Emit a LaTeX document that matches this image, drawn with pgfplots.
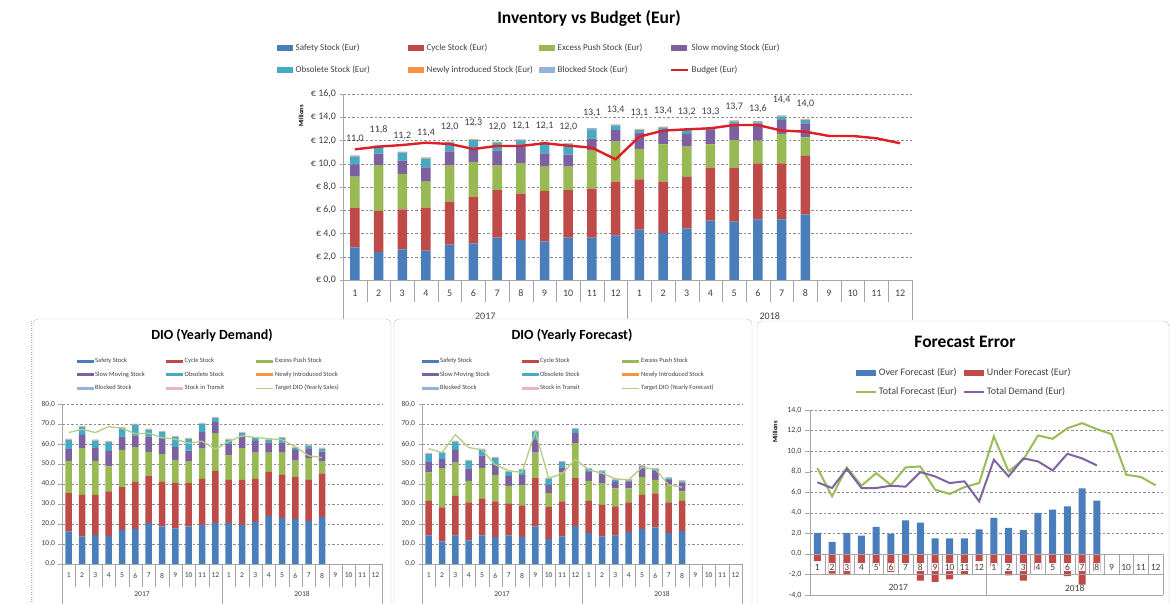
\documentclass[border=0pt]{standalone}
\usepackage{pgfplots}
\pgfplotsset{compat=1.18}
\usepackage{pgfplotstable}
\usepackage{fontspec}
\setmainfont{Carlito}
\definecolor{cSafe}{HTML}{4A7EBB}
\definecolor{cCycle}{HTML}{BE4B48}
\definecolor{cExcess}{HTML}{98B954}
\definecolor{cSlow}{HTML}{7D60A0}
\definecolor{cObs}{HTML}{46AAC5}
\definecolor{cNew}{HTML}{F69240}
\definecolor{cBlock}{HTML}{95B3D7}
\definecolor{cTrans}{HTML}{E6B9B8}
\definecolor{cBudget}{HTML}{DD1F26}
\definecolor{cTarget}{HTML}{B0CF86}
\definecolor{cFcst}{HTML}{9BBB59}
\definecolor{cDem}{HTML}{8064A2}
\definecolor{cGrid}{HTML}{8C8C8C}
\definecolor{cAxis}{HTML}{A6A6A6}
\definecolor{cText}{HTML}{404040}

\pgfplotstableread{
x s c e sl o n b
1 2.81 3.41 2.67 1.06 0.66 0.05 0.05
2 2.41 3.53 3.89 1.04 0.60 0.05 0.05
3 2.64 3.44 3.04 1.15 0.68 0.05 0.05
4 2.52 3.70 2.24 1.23 0.75 0.05 0.05
5 3.04 3.70 3.09 1.24 0.74 0.05 0.05
6 3.15 4.02 2.98 1.12 0.77 0.05 0.05
7 3.64 4.10 2.09 1.30 0.68 0.05 0.05
8 3.44 3.99 2.63 1.50 0.43 0.05 0.05
9 3.33 4.33 2.09 1.15 0.91 0.05 0.05
10 3.64 4.10 2.01 1.03 0.89 0.05 0.05
11 3.64 4.22 3.27 1.03 0.80 0.05 0.05
12 3.84 4.62 3.44 1.00 0.38 0.05 0.05
13 4.33 4.33 2.61 1.40 0.23 0.05 0.05
14 4.04 4.42 3.21 1.23 0.20 0.05 0.05
15 4.44 4.42 2.61 1.09 0.34 0.05 0.05
16 5.10 4.56 2.01 1.23 0.15 0.05 0.05
17 5.02 4.64 2.38 1.44 0.14 0.05 0.05
18 5.22 4.82 1.95 1.49 0.08 0.05 0.05
19 5.22 4.82 2.52 1.20 0.29 0.05 0.05
20 5.65 5.02 1.60 1.21 0.28 0.05 0.05
}\tabTop

\pgfplotstableread{
x y
1 11.24
2 11.47
3 11.61
4 11.81
5 11.70
6 11.27
7 11.53
8 11.53
9 11.76
10 11.56
11 11.38
12 10.38
13 12.33
14 12.85
15 12.96
16 13.05
17 13.33
18 13.33
19 12.85
20 12.76
21 12.39
22 12.39
23 12.19
24 11.76
}\tabBudget

\pgfplotstableread{
x y m
1 12.10 11.0
2 12.96 11.8
3 12.39 11.2
4 12.62 11.4
5 13.19 12.0
6 13.48 12.3
7 13.19 12.0
8 13.25 12.1
9 13.25 12.1
10 13.19 12.0
11 14.34 13.1
12 14.62 13.4
13 14.34 13.1
14 14.57 13.4
15 14.48 13.2
16 14.45 13.3
17 14.85 13.7
18 14.71 13.6
19 15.48 14.4
20 15.14 14.0
}\tabLabels

\pgfplotstableread{
x s c e sl o n b t tg
1 16.3 19.1 16.2 5.8 4.7 0.1 0.1 0.4 65.7
2 13.8 20.8 23.3 6.7 3.8 0.1 0.1 0.4 67.4
3 14.6 20.0 17.0 6.3 3.8 0.1 0.1 0.4 65.7
4 14.1 22.2 12.5 7.8 4.3 0.1 0.1 0.4 68.7
5 17.1 21.3 18.7 6.6 4.2 0.1 0.1 0.4 67.9
6 17.6 23.5 17.3 5.8 5.4 0.1 0.1 0.4 65.1
7 20.5 23.4 12.2 7.6 3.4 0.1 0.1 0.4 65.4
8 18.8 22.3 13.8 7.7 3.3 0.1 0.1 0.4 63.2
9 17.8 22.8 11.5 6.3 5.0 0.1 0.1 0.4 62.4
10 18.8 21.8 10.6 5.5 5.7 0.1 0.1 0.4 60.4
11 19.5 23.1 15.1 8.2 4.1 0.1 0.1 0.4 61.4
12 20.5 26.1 18.8 5.5 2.0 0.1 0.1 0.4 57.4
13 20.5 21.6 12.5 5.3 2.2 0.1 0.1 0.4 61.2
14 19.6 22.5 15.8 5.8 1.7 0.1 0.1 0.4 64.1
15 21.1 21.5 13.1 5.9 1.3 0.1 0.1 0.4 63.2
16 24.1 22.0 9.6 5.0 1.4 0.1 0.1 0.4 62.7
17 23.0 21.6 11.1 5.0 2.2 0.1 0.1 0.4 62.1
18 22.5 20.9 8.3 5.4 0.8 0.1 0.1 0.4 58.7
19 21.6 20.5 10.8 4.5 1.7 0.1 0.1 0.4 54.1
20 23.5 21.6 6.1 5.0 1.4 0.1 0.1 0.4 53.2
}\tabDem

\pgfplotstableread{
x s c e sl o n b t tg
1 14.3 17.3 14.2 5.1 4.0 0.1 0.1 0.4 57.7
2 11.3 17.0 19.6 4.5 3.0 0.1 0.1 0.4 55.7
3 14.3 19.8 16.6 6.4 4.0 0.1 0.1 0.4 64.7
4 11.8 19.0 10.8 6.2 3.8 0.1 0.1 0.4 58.2
5 14.3 18.3 15.5 6.1 2.9 0.1 0.1 0.4 57.1
6 13.5 17.8 13.1 5.2 3.3 0.1 0.1 0.4 49.6
7 14.3 16.0 8.8 5.0 2.0 0.1 0.1 0.4 46.6
8 13.5 15.8 10.3 4.8 2.7 0.1 0.1 0.4 45.8
9 18.8 24.1 12.8 6.4 4.1 0.1 0.1 0.4 66.2
10 12.6 15.9 6.9 4.2 3.0 0.1 0.1 0.4 42.9
11 13.8 17.5 14.5 2.5 2.6 0.1 0.1 0.4 45.1
12 19.1 23.8 17.5 5.0 2.0 0.1 0.1 0.4 52.4
13 15.5 16.1 10.0 4.5 1.3 0.1 0.1 0.4 47.1
14 13.8 15.7 10.9 4.7 1.2 0.1 0.1 0.4 45.4
15 14.3 14.5 9.0 3.3 1.0 0.1 0.1 0.4 42.6
16 16.1 14.7 7.0 3.5 0.5 0.1 0.1 0.4 42.1
17 17.6 17.0 8.8 4.5 0.9 0.1 0.1 0.4 48.3
18 18.3 17.0 6.8 4.5 0.8 0.1 0.1 0.4 47.4
19 15.5 15.3 8.6 2.7 0.7 0.1 0.1 0.4 39.6
20 16.6 15.0 4.7 4.5 0.5 0.1 0.1 0.4 38.4
}\tabFc

\pgfplotstableread{
x over under dem
1 2.04 -0.71 6.96
2 1.17 -1.91 6.41
3 2.04 -2.07 8.28
4 1.78 -1.59 6.41
5 2.62 -1.20 6.41
6 1.97 -1.78 6.63
7 3.27 -1.20 6.54
8 3.04 -2.59 7.96
9 1.52 -2.72 7.54
10 1.52 -2.49 6.89
11 1.52 -2.00 7.06
12 2.39 -0.71 5.11
13 3.50 -1.20 9.16
14 2.52 -2.10 7.54
15 2.30 -2.59 9.29
16 3.98 -1.59 9.00
17 4.30 -1.10 8.12
18 4.63 -2.17 9.74
19 6.38 -2.98 9.29
20 5.18 -1.68 8.61
}\tabFE

\pgfplotstableread{
x f
1 8.35
2 5.60
3 8.41
4 6.63
5 7.86
6 6.70
7 8.41
8 8.51
9 6.25
10 5.83
11 6.50
12 6.89
13 11.42
14 8.03
15 9.16
16 11.52
17 11.20
18 12.23
19 12.72
20 12.14
21 11.65
22 7.70
23 7.48
24 6.67
}\tabFEf

\pgfplotsset{
  numfmt/.style={/pgf/number format/fixed, /pgf/number format/fixed zerofill,
    /pgf/number format/precision=1, /pgf/number format/use comma,
    /pgf/number format/1000 sep={}, /pgf/number format/assume math mode=true},
  barpatch/.style={legend image code/.code={\fill[##1] (0pt,-2.8pt) rectangle (16pt,2.8pt);}},
  fepatch/.style={legend image code/.code={\fill[##1] (0pt,-3pt) rectangle (20pt,3pt);}},
  smallpatch/.style={legend image code/.code={\fill[##1] (0pt,-1.5pt) rectangle (17pt,1.5pt);}},
  linepatch/.style={legend image code/.code={\draw[##1] (0pt,0pt) -- (17pt,0pt);}},
  felinepatch/.style={legend image code/.code={\draw[##1] (0pt,0pt) -- (20pt,0pt);}},
  excelaxis/.style={scale only axis, anchor=south west, clip=false,
    xmin=0.5, xmax=24.5, enlargelimits=false,
    axis x line*=bottom, axis y line*=left, axis line style={-, draw=cAxis},
    tick align=outside, ymajorgrids,
    major grid style={dash pattern=on 2.5pt off 2pt, draw=cGrid},
    tick style={draw=cAxis}, major tick length=3.5pt,
    xtick={1,...,24},
    xticklabels={1,2,3,4,5,6,7,8,9,10,11,12,1,2,3,4,5,6,7,8,9,10,11,12},
    major x tick style={draw=none}, minor x tick num=1,
    minor x tick style={draw=cAxis},
    legend cell align=left, numfmt},
  overlay/.style={scale only axis, anchor=south west, clip=false,
    xmin=0.5, xmax=24.5, enlargelimits=false, hide axis, numfmt},
}

\begin{document}
\begin{tikzpicture}[text=cText]
\path[use as bounding box, fill=white] (0pt,0pt) rectangle (1172pt,604pt);

% ================= TOP CHART =================
\begin{axis}[excelaxis, at={(343pt,324pt)}, width=569pt, height=186pt,
  ymin=0, ymax=16, ytick={0,2,...,16}, ybar stacked, bar width=9.5pt,
  minor tick length=22pt,
  yticklabel={€ \pgfmathprintnumber{\tick}},
  tick label style={font=\fontsize{10}{12}\selectfont, text=cText},
  xticklabel style={yshift=-3pt},
  legend columns=4,
  legend style={draw=none, fill=none, at={(-0.1169,1.277)}, anchor=north west,
    inner sep=0pt, font=\fontsize{9}{11}\selectfont, row sep=11pt,
    column sep=0pt, nodes={inner sep=1.5pt}, text=cText}]
\addplot[fill=cSafe, draw=none, barpatch] table[x=x, y=s] \tabTop;
\addplot[fill=cCycle, draw=none, barpatch] table[x=x, y=c] \tabTop;
\addplot[fill=cExcess, draw=none, barpatch] table[x=x, y=e] \tabTop;
\addplot[fill=cSlow, draw=none, barpatch] table[x=x, y=sl] \tabTop;
\addplot[fill=cObs, draw=none, barpatch] table[x=x, y=o] \tabTop;
\addplot[fill=cNew, draw=none, barpatch] table[x=x, y=n] \tabTop;
\addplot[fill=cBlock, draw=none, barpatch] table[x=x, y=b] \tabTop;
\addlegendimage{linepatch, draw=cBudget, line width=2pt}
\legend{\makebox[112pt][l]{\,Safety Stock (Eur)}, \makebox[112pt][l]{\,Cycle Stock (Eur)},
  \makebox[112pt][l]{\,Excess Push Stock (Eur)}, \makebox[112pt][l]{\,Slow moving Stock (Eur)},
  \makebox[112pt][l]{\,Obsolete Stock (Eur)}, \makebox[112pt][l]{\,Newly introduced Stock (Eur)},
  \makebox[112pt][l]{\,Blocked Stock (Eur)}, \makebox[112pt][l]{\,Budget (Eur)}}
\draw[cAxis] (axis cs:0.5,0) -- ++(0pt,-40pt);
\draw[cAxis] (axis cs:12.5,0) -- ++(0pt,-40pt);
\draw[cAxis] (axis cs:24.5,0) -- ++(0pt,-40pt);
\node[font=\fontsize{10}{12}\selectfont, yshift=-36pt] at (axis cs:6.5,0) {2017};
\node[font=\fontsize{10}{12}\selectfont, yshift=-36pt] at (axis cs:18.5,0) {2018};
\end{axis}

\begin{axis}[overlay, at={(343pt,324pt)}, width=569pt, height=186pt, ymin=0, ymax=16]
\addplot[draw=cBudget, line width=2.4pt, mark=none, sharp plot] table[x=x, y=y] \tabBudget;
\addplot[only marks, mark=*, mark size=0.1pt, mark options={draw=none, fill=none},
  point meta=explicit, nodes near coords={\pgfmathprintnumber{\pgfplotspointmeta}},
  every node near coord/.append style={anchor=center, font=\fontsize{10}{12}\selectfont, text=cText}]
  table[x=x, y=y, meta=m] \tabLabels;
\end{axis}

\node[font=\bfseries\fontsize{17.5}{21}\selectfont, text=black] at (589pt,586pt) {Inventory vs Budget (Eur)};
\node[rotate=90, font=\bfseries\fontsize{6.5}{8}\selectfont, text=black] at (301pt,488pt) {Millions};

% ================= PANELS =================
\draw[dotted, cAxis] (31pt,-5pt) -- (31pt,285pt);
\draw[cAxis!70, fill=white, rounded corners=5pt] (33pt,-10pt) rectangle (391pt,285pt);
\draw[cAxis!70, fill=white, rounded corners=5pt] (394pt,-10pt) rectangle (752pt,285pt);
\draw[cAxis!70, fill=white, rounded corners=5pt] (757pt,-10pt) rectangle (1169pt,283pt);

% ================= DIO (Yearly Demand) =================
\begin{axis}[excelaxis, at={(62pt,40pt)}, width=320pt, height=160pt,
  ymin=0, ymax=80, ytick={0,10,...,80}, ybar stacked, bar width=6.5pt,
  minor tick length=23pt,
  tick label style={font=\fontsize{7.5}{8.5}\selectfont, text=cText},
  xticklabel style={yshift=-2pt},
  legend columns=3,
  legend style={draw=none, fill=none, at={(0.0453,1.296)}, anchor=north west,
    inner sep=0pt, font=\fontsize{6.5}{7.5}\selectfont, row sep=4.3pt,
    column sep=0pt, nodes={inner sep=1.5pt}, text=cText}]
\addplot[fill=cSafe, draw=none, smallpatch] table[x=x, y=s] \tabDem;
\addplot[fill=cCycle, draw=none, smallpatch] table[x=x, y=c] \tabDem;
\addplot[fill=cExcess, draw=none, smallpatch] table[x=x, y=e] \tabDem;
\addplot[fill=cSlow, draw=none, smallpatch] table[x=x, y=sl] \tabDem;
\addplot[fill=cObs, draw=none, smallpatch] table[x=x, y=o] \tabDem;
\addplot[fill=cNew, draw=none, smallpatch] table[x=x, y=n] \tabDem;
\addplot[fill=cBlock, draw=none, smallpatch] table[x=x, y=b] \tabDem;
\addplot[fill=cTrans, draw=none, smallpatch] table[x=x, y=t] \tabDem;
\addlegendimage{linepatch, draw=cTarget, line width=0.9pt}
\legend{\makebox[69.5pt][l]{Safety Stock}, \makebox[69.5pt][l]{Cycle Stock}, \makebox[69.5pt][l]{Excess Push Stock},
  \makebox[69.5pt][l]{Slow Moving Stock}, \makebox[69.5pt][l]{Obsolete Stock}, \makebox[69.5pt][l]{Newly Introduced Stock},
  \makebox[69.5pt][l]{Blocked Stock}, \makebox[69.5pt][l]{Stock in Transit}, \makebox[69.5pt][l]{Target DIO (Yearly Sales)}}
\draw[cAxis] (axis cs:0.5,0) -- ++(0pt,-45pt);
\draw[cAxis] (axis cs:12.5,0) -- ++(0pt,-45pt);
\draw[cAxis] (axis cs:24.5,0) -- ++(0pt,-45pt);
\node[font=\fontsize{7.5}{8.5}\selectfont, yshift=-30pt] at (axis cs:6.5,0) {2017};
\node[font=\fontsize{7.5}{8.5}\selectfont, yshift=-30pt] at (axis cs:18.5,0) {2018};
\end{axis}
\begin{axis}[overlay, at={(62pt,40pt)}, width=320pt, height=160pt, ymin=0, ymax=80]
\addplot[draw=cTarget, line width=1.3pt, mark=none, sharp plot] table[x=x, y=tg] \tabDem;
\end{axis}
\node[font=\bfseries\fontsize{14}{17}\selectfont, text=black] at (212pt,269pt) {DIO (Yearly Demand)};

% ================= DIO (Yearly Forecast) =================
\begin{axis}[excelaxis, at={(422pt,40pt)}, width=320pt, height=160pt,
  ymin=0, ymax=80, ytick={0,10,...,80}, ybar stacked, bar width=6.5pt,
  minor tick length=23pt,
  tick label style={font=\fontsize{7.5}{8.5}\selectfont, text=cText},
  xticklabel style={yshift=-2pt},
  legend columns=3,
  legend style={draw=none, fill=none, at={(-0.0016,1.296)}, anchor=north west,
    inner sep=0pt, font=\fontsize{6.5}{7.5}\selectfont, row sep=4.3pt,
    column sep=0pt, nodes={inner sep=1.5pt}, text=cText}]
\addplot[fill=cSafe, draw=none, smallpatch] table[x=x, y=s] \tabFc;
\addplot[fill=cCycle, draw=none, smallpatch] table[x=x, y=c] \tabFc;
\addplot[fill=cExcess, draw=none, smallpatch] table[x=x, y=e] \tabFc;
\addplot[fill=cSlow, draw=none, smallpatch] table[x=x, y=sl] \tabFc;
\addplot[fill=cObs, draw=none, smallpatch] table[x=x, y=o] \tabFc;
\addplot[fill=cNew, draw=none, smallpatch] table[x=x, y=n] \tabFc;
\addplot[fill=cBlock, draw=none, smallpatch] table[x=x, y=b] \tabFc;
\addplot[fill=cTrans, draw=none, smallpatch] table[x=x, y=t] \tabFc;
\addlegendimage{linepatch, draw=cTarget, line width=0.9pt}
\legend{\makebox[80pt][l]{Safety Stock}, \makebox[80pt][l]{Cycle Stock}, \makebox[80pt][l]{Excess Push Stock},
  \makebox[80pt][l]{Slow Moving Stock}, \makebox[80pt][l]{Obsolete Stock}, \makebox[80pt][l]{Newly Introduced Stock},
  \makebox[80pt][l]{Blocked Stock}, \makebox[80pt][l]{Stock in Transit}, \makebox[80pt][l]{Target DIO (Yearly Forecast)}}
\draw[cAxis] (axis cs:0.5,0) -- ++(0pt,-45pt);
\draw[cAxis] (axis cs:12.5,0) -- ++(0pt,-45pt);
\draw[cAxis] (axis cs:24.5,0) -- ++(0pt,-45pt);
\node[font=\fontsize{7.5}{8.5}\selectfont, yshift=-30pt] at (axis cs:6.5,0) {2017};
\node[font=\fontsize{7.5}{8.5}\selectfont, yshift=-30pt] at (axis cs:18.5,0) {2018};
\end{axis}
\begin{axis}[overlay, at={(422pt,40pt)}, width=320pt, height=160pt, ymin=0, ymax=80]
\addplot[draw=cTarget, line width=1.3pt, mark=none, sharp plot] table[x=x, y=tg] \tabFc;
\end{axis}
\node[font=\bfseries\fontsize{14}{17}\selectfont, text=black] at (572pt,269pt) {DIO (Yearly Forecast)};

% ================= FORECAST ERROR =================
\begin{axis}[scale only axis, anchor=south west, clip=false, at={(810pt,9pt)}, width=353pt, height=185pt,
  xmin=0.5, xmax=24.5, ymin=-4, ymax=14, enlargelimits=false, ytick={-4,-2,...,14}, xtick=\empty,
  axis x line*=bottom, axis y line*=left, axis line style={-, draw=cAxis},
  tick align=outside, ymajorgrids, major grid style={dash pattern=on 2.5pt off 2pt, draw=cGrid},
  tick style={draw=cAxis}, major tick length=5pt, bar width=7pt,
  tick label style={font=\fontsize{8}{9}\selectfont, text=cText},
  legend columns=2, legend cell align=left,
  legend style={draw=none, fill=none, at={(0.128,1.234)}, anchor=north west,
    inner sep=0pt, font=\fontsize{10}{12}\selectfont, row sep=7pt,
    column sep=0pt, nodes={inner sep=1.5pt}, text=cText}, numfmt]
\addplot[ybar, bar shift=0pt, fill=cSafe, draw=none, fepatch] table[x=x, y=over] \tabFE;
\addplot[ybar, bar shift=0pt, fill=cCycle, draw=none, fepatch] table[x=x, y=under] \tabFE;
\addplot[draw=cFcst, line width=2pt, mark=none, sharp plot, felinepatch] table[x=x, y=f] \tabFEf;
\addplot[draw=cDem, line width=2pt, mark=none, sharp plot, felinepatch] table[x=x, y=dem] \tabFE;
\legend{\makebox[83pt][l]{Over Forecast (Eur)}, \makebox[83pt][l]{Under Forecast (Eur)},
  \makebox[83pt][l]{Total Forecast (Eur)}, \makebox[83pt][l]{Total Demand (Eur)}}
\draw[cAxis] (axis cs:0.5,0) -- (axis cs:24.5,0);
\draw[cAxis] (axis cs:0.5,-2) -- (axis cs:24.5,-2);
\pgfplotsinvokeforeach{0,...,24}{\draw[cAxis] (axis cs:#1.5,0) -- (axis cs:#1.5,-2);}
\draw[cAxis] (axis cs:12.5,-2) -- (axis cs:12.5,-4);
\draw[cAxis] (axis cs:24.5,-2) -- (axis cs:24.5,-4);
\pgfplotsinvokeforeach{1,...,12}{
  \node[fill=white, inner sep=0.8pt, font=\fontsize{9.5}{10}\selectfont] at (axis cs:#1,-1.3) {#1};
  \node[fill=white, inner sep=0.8pt, font=\fontsize{9.5}{10}\selectfont, xshift=176.5pt] at (axis cs:#1,-1.3) {#1};
}
\node[font=\fontsize{9.5}{10}\selectfont] at (axis cs:6.5,-3.3) {2017};
\node[font=\fontsize{9.5}{10}\selectfont] at (axis cs:18.5,-3.3) {2018};
\end{axis}
\node[font=\bfseries\fontsize{17.5}{21}\selectfont, text=black] at (965pt,262pt) {Forecast Error};
\node[rotate=90, font=\bfseries\fontsize{6.5}{8}\selectfont, text=black] at (775pt,172pt) {Millions};
\end{tikzpicture}
\end{document}
